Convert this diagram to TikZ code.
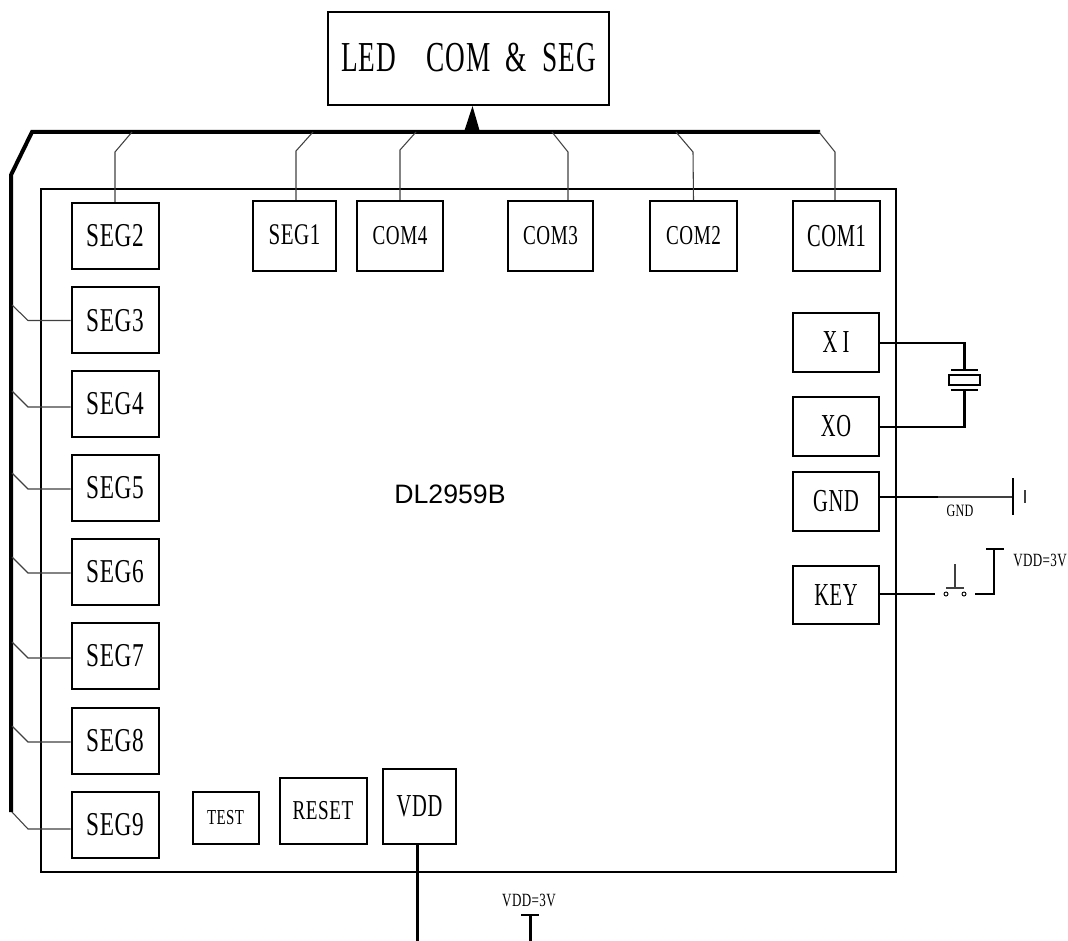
\documentclass[tikz,border=0pt]{standalone}
\usepackage{fontspec}
\setmainfont[FakeStretch=0.70,LetterSpace=2]{Liberation Serif}
\newfontfamily\tallfont[FakeStretch=0.64,LetterSpace=2]{Liberation Serif}
\newfontfamily\chipfont{Liberation Sans}
\tikzset{
	pinbox/.style 2 args={draw, line width=1.5pt, inner sep=0pt, minimum width=#1*0.75pt, minimum height=#2*0.75pt},
	pintext/.style={font=\fontsize{#1}{#1}\selectfont},
	talltext/.style={font=\tallfont\fontsize{#1}{#1}\selectfont},
	thinwire/.style={draw=black!75, line width=0.8pt},
	wire/.style={line width=1.6pt},
	bus/.style={line width=3pt, line join=miter}
}
\newcommand{\upa}[1]{\raisebox{1.5pt}{#1}}
\begin{document}
\begin{tikzpicture}[x=0.75pt, y=-0.75pt]
	\useasboundingbox (0,0) rectangle (1068,941);
	\node[pinbox={855}{683}] (chip)at(468.5, 530.5) {};
	\node[font=\chipfont\fontsize{20}{20}\selectfont] (name)at(450, 494) {DL2959B};
	\node[pinbox={281}{93}, talltext=32] (led)at(468.5, 58.5) {\upa{LED\ \ \ \ COM\ \ \&\ \ SEG}};

	\node[pinbox={87}{66}, pintext=25] (SEG2)at(115, 236) {\upa{SEG2}};
	\node[pinbox={83}{70}, pintext=22.5] (SEG1)at(294.5, 236) {\upa{SEG1}};
	\node[pinbox={86}{70}, pintext=20.5] (COM4)at(400, 236) {\upa{COM4}};
	\node[pinbox={85}{70}, pintext=20.5] (COM3)at(550.5, 236) {\upa{COM3}};
	\node[pinbox={87}{70}, pintext=20.5] (COM2)at(693.5, 236) {\upa{COM2}};
	\node[pinbox={87}{70}, talltext=24] (COM1)at(836.5, 236) {COM1};

	\node[pinbox={87}{66}, pintext=25] (SEG3)at(115, 320.5) {SEG3};
	\node[pinbox={87}{66}, pintext=25] (SEG4)at(115, 404) {SEG4};
	\node[pinbox={87}{66}, pintext=25] (SEG5)at(115, 488) {SEG5};
	\node[pinbox={87}{66}, pintext=25] (SEG6)at(115, 572) {SEG6};
	\node[pinbox={87}{66}, pintext=25] (SEG7)at(115, 656) {SEG7};
	\node[pinbox={87}{66}, pintext=25] (SEG8)at(115, 741) {SEG8};
	\node[pinbox={87}{66}, pintext=25] (SEG9)at(115, 825) {SEG9};

	\node[pinbox={66}{52}, pintext=16] (TEST)at(225.5, 818) {TEST};
	\node[pinbox={87}{66}, pintext=20.5] (RESET)at(323, 811) {\upa{RESET}};
	\node[pinbox={73}{75}, talltext=24] (VDD)at(419.5, 806.5) {VDD};

	\node[pinbox={86}{59}, talltext=24] (XI)at(836, 342.5) {X\,I};
	\node[pinbox={86}{59}, talltext=24] (XO)at(836, 426.5) {XO};
	\node[pinbox={86}{59}, talltext=24] (GND)at(836, 501.5) {GND};
	\node[pinbox={86}{58}, talltext=24] (KEY)at(836, 595) {KEY};

	\node[pintext=13] (gndtext)at(960, 511) {GND};
	\node[pintext=14] (vddtextA)at(1040, 560) {VDD=3V};
	\node[pintext=14] (vddtextB)at(529, 900) {VDD=3V};

	% bus to the LED
	\coordinate (busA) at (820, 132);
	\coordinate (busB) at (32, 132);
	\coordinate (busC) at (11, 175);
	\coordinate (busD) at (11, 812);
	\draw[bus] (busA) -- (busB) -- (busC) -- (busD);
	\coordinate (arrowA) at (464, 132);
	\coordinate (arrowB) at (480, 132);
	\fill (arrowA) -- (led.south -| 472.5,0) -- (arrowB) -- cycle;

	% top pins
	\coordinate (tapSEG2) at (132, 132);
	\coordinate (tapSEG1) at (313, 132);
	\coordinate (tapCOM4) at (416, 132);
	\coordinate (tapCOM3) at (552, 132);
	\coordinate (tapCOM2) at (676, 132);
	\coordinate (tapCOM1) at (819, 132);
	\draw[thinwire] (SEG2.north) -- (115, 152) -- (tapSEG2);
	\draw[thinwire] (SEG1.north -| 296,0) -- (296, 151) -- (tapSEG1);
	\draw[thinwire] (COM4.north) -- (400, 150) -- (tapCOM4);
	\draw[thinwire] (COM3.north -| 568,0) -- (568, 152) -- (tapCOM3);
	\draw[thinwire] (COM2.north) -- (693, 152) -- (tapCOM2);
	\draw[thinwire] (COM1.north -| 835,0) -- (835, 152) -- (tapCOM1);

	% left pins
	\coordinate (tapSEG3) at (12, 305);
	\coordinate (tapSEG4) at (12, 391);
	\coordinate (tapSEG5) at (12, 473);
	\coordinate (tapSEG6) at (12, 557);
	\coordinate (tapSEG7) at (12, 642);
	\coordinate (tapSEG8) at (12, 726);
	\coordinate (tapSEG9) at (12, 812);
	\draw[thinwire] (SEG3.west) -- (28, 320.5) -- (tapSEG3);
	\draw[thinwire] (SEG4.west |- 0,407) -- (28, 407) -- (tapSEG4);
	\draw[thinwire] (SEG5.west |- 0,489) -- (28, 489) -- (tapSEG5);
	\draw[thinwire] (SEG6.west |- 0,573) -- (28, 573) -- (tapSEG6);
	\draw[thinwire] (SEG7.west |- 0,658) -- (28, 658) -- (tapSEG7);
	\draw[thinwire] (SEG8.west |- 0,742) -- (28, 742) -- (tapSEG8);
	\draw[thinwire] (SEG9.west |- 0,829) -- (28, 829) -- (tapSEG9);

	% crystal
	\node[draw, line width=1pt, inner sep=0pt, minimum width=23.2pt, minimum height=7.5pt] (xtal)at(964.5, 380) {};
	\coordinate (plateAl) at (951, 370);
	\coordinate (plateAr) at (978, 370);
	\coordinate (plateBl) at (951, 390);
	\coordinate (plateBr) at (978, 390);
	\draw[line width=1pt] (plateAl) -- (plateAr);
	\draw[line width=1pt] (plateBl) -- (plateBr);
	\draw[wire] (XI.east |- 0,343) -- (964.5, 343) -- (964.5, 370);
	\draw[wire] (XO.east |- 0,427) -- (964.5, 427) -- (964.5, 390);

	% ground
	\coordinate (gndA) at (1013, 497);
	\coordinate (gndB) at (938, 497);
	\draw[wire] (GND.east |- gndA) -- (gndB);
	\draw[thinwire] (gndB) -- (gndA);
	\draw[line width=0.9pt] (1013, 478) -- (1013, 515);
	\draw[thinwire] (1025, 490) -- (1025, 503);

	% key switch
	\node[draw, circle, line width=0.7pt, inner sep=0pt, minimum size=3pt] (swA)at(946, 594) {};
	\node[draw, circle, line width=0.7pt, inner sep=0pt, minimum size=3pt] (swB)at(964, 594) {};
	\coordinate (swC) at (935, 594);
	\coordinate (swD) at (975, 594);
	\draw[wire] (KEY.east |- swC) -- (swC);
	\draw[wire] (swD) -- (994, 594) -- (994, 549);
	\draw[wire] (986, 549) -- (1004, 549);
	\draw[thinwire] (946, 588) -- (964, 588);
	\draw[thinwire] (955, 588) -- (955, 564);

	% supply
	\coordinate (vddA) at (417.5, 941);
	\coordinate (vddB) at (530.5, 941);
	\coordinate (vddC) at (530.5, 915);
	\draw[wire] (VDD.south -| 417.5,0) -- (vddA);
	\draw[wire] (vddB) -- (vddC);
	\draw[wire] (521, 915) -- (539, 915);
\end{tikzpicture}
\end{document}
